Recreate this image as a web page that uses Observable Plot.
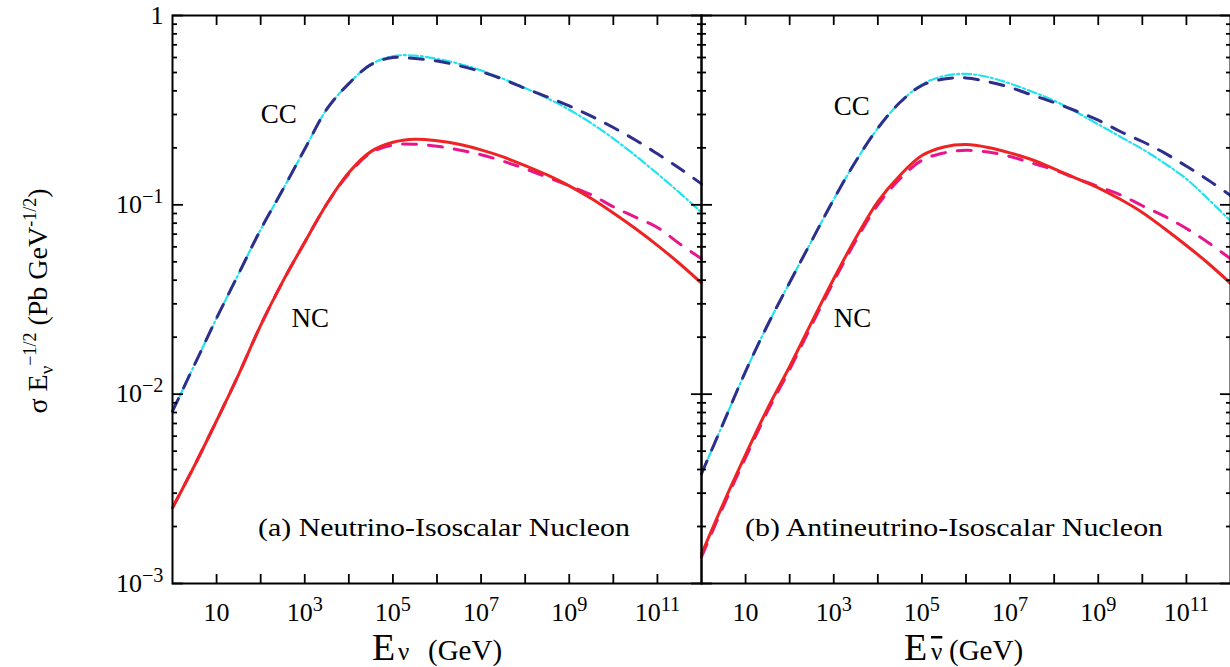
<!DOCTYPE html>
<html><head><meta charset="utf-8">
<script src="https://cdn.jsdelivr.net/npm/d3@7"></script>
<script src="https://cdn.jsdelivr.net/npm/@observablehq/plot@0.6"></script>
<style>
html,body{margin:0;padding:0;background:#fff;overflow:hidden;}
#chart{position:relative;width:1230px;height:667px;}
</style></head><body><div id="chart"></div>
<script>
// Energy grid (GeV)
const energy = [1, 3.16, 10, 31.6, 100, 316, 1e3, 3.16e3, 1e4, 3.16e4, 1e5, 3.16e5, 1e6, 3.16e6, 1e7, 3.16e7, 1e8, 3.16e8, 1e9, 3.16e9, 1e10, 3.16e10, 1e11, 3.16e11, 1e12];

// (a) Neutrino-Isoscalar Nucleon : sigma * E^-1/2 (pb GeV^-1/2)
const nuCCDashed  = [0.00813, 0.0143, 0.0252, 0.0432, 0.0741, 0.120, 0.197, 0.320, 0.437, 0.550, 0.600, 0.592, 0.575, 0.543, 0.505, 0.460, 0.412, 0.372, 0.333, 0.294, 0.256, 0.220, 0.186, 0.156, 0.129];
const nuCCDashDot = [0.00813, 0.0143, 0.0252, 0.0432, 0.0741, 0.120, 0.197, 0.320, 0.437, 0.552, 0.610, 0.614, 0.590, 0.556, 0.513, 0.463, 0.414, 0.366, 0.318, 0.270, 0.224, 0.182, 0.146, 0.116, 0.0912];
const nuNCSolid   = [0.00251, 0.00420, 0.00724, 0.0127, 0.0231, 0.0393, 0.0635, 0.101, 0.148, 0.191, 0.214, 0.222, 0.218, 0.209, 0.195, 0.179, 0.161, 0.144, 0.126, 0.108, 0.0906, 0.0750, 0.0611, 0.0490, 0.0386];
const nuNCDashed  = [0.00251, 0.00420, 0.00724, 0.0127, 0.0231, 0.0393, 0.0635, 0.101, 0.146, 0.188, 0.207, 0.209, 0.204, 0.195, 0.184, 0.170, 0.155, 0.140, 0.126, 0.113, 0.0977, 0.0861, 0.0759, 0.0624, 0.0519];

// (b) Antineutrino-Isoscalar Nucleon
const nubarCCDashed  = [0.00380, 0.00708, 0.0132, 0.0232, 0.0389, 0.0646, 0.107, 0.170, 0.254, 0.347, 0.427, 0.462, 0.468, 0.447, 0.417, 0.380, 0.347, 0.313, 0.280, 0.244, 0.216, 0.188, 0.160, 0.135, 0.112];
const nubarCCDashDot = [0.00380, 0.00708, 0.0132, 0.0232, 0.0389, 0.0646, 0.107, 0.170, 0.254, 0.347, 0.432, 0.479, 0.492, 0.473, 0.437, 0.396, 0.355, 0.309, 0.266, 0.229, 0.197, 0.166, 0.137, 0.107, 0.0822];
const nubarNCSolid   = [0.00143, 0.00266, 0.00479, 0.00841, 0.0140, 0.0240, 0.0407, 0.0668, 0.104, 0.143, 0.182, 0.202, 0.208, 0.201, 0.188, 0.173, 0.155, 0.138, 0.123, 0.107, 0.0912, 0.0750, 0.0610, 0.0490, 0.0385];
const nubarNCDashed  = [0.00138, 0.00257, 0.00462, 0.00813, 0.0135, 0.0232, 0.0394, 0.0646, 0.100, 0.137, 0.172, 0.188, 0.194, 0.190, 0.180, 0.166, 0.153, 0.138, 0.125, 0.113, 0.0989, 0.0871, 0.0750, 0.0631, 0.0519];

// Ticks and labels
const xTicks = [10, 100, 1e3, 1e4, 1e5, 1e6, 1e7, 1e8, 1e9, 1e10, 1e11];
const xLabelTicks = [10, 1e3, 1e5, 1e7, 1e9, 1e11];
const xTickLabels = ["10", "10^3", "10^5", "10^7", "10^9", "10^11"];
const yMajorTicks = [0.001, 0.01, 0.1, 1];
const yTickLabels = ["10^\u22123", "10^\u22122", "10^\u22121", "1"];
const yMinorTicks = [0.002,0.003,0.004,0.005,0.006,0.007,0.008,0.009,
                     0.02,0.03,0.04,0.05,0.06,0.07,0.08,0.09,
                     0.2,0.3,0.4,0.5,0.6,0.7,0.8,0.9];

const panelLabels = [
  {panel: "a", label: "(a) Neutrino-Isoscalar Nucleon"},
  {panel: "b", label: "(b) Antineutrino-Isoscalar Nucleon"}
];
const curveLabels = [
  {panel: "a", label: "CC", E: 100, v: 0.30},
  {panel: "a", label: "NC", E: 500, v: 0.025},
  {panel: "b", label: "CC", E: 1000, v: 0.33},
  {panel: "b", label: "NC", E: 1000, v: 0.025}
];

const series = [
  {panel: "a", key: "ccDot", values: nuCCDashDot},
  {panel: "a", key: "ccDash", values: nuCCDashed},
  {panel: "a", key: "ncDash", values: nuNCDashed},
  {panel: "a", key: "ncSolid", values: nuNCSolid},
  {panel: "b", key: "ccDot", values: nubarCCDashDot},
  {panel: "b", key: "ccDash", values: nubarCCDashed},
  {panel: "b", key: "ncDash", values: nubarNCDashed},
  {panel: "b", key: "ncSolid", values: nubarNCSolid}
];
const rows = series.flatMap(s => s.values.map((v, i) => ({panel: s.panel, key: s.key, E: energy[i], v})));

const styles = {
  ccDot:   {stroke: "#22e2ee", strokeWidth: 2.2, strokeDasharray: "9,3,2,3"},
  ccDash:  {stroke: "#2e2e8c", strokeWidth: 3, strokeDasharray: "14,12"},
  ncDash:  {stroke: "#e8168c", strokeWidth: 3, strokeDasharray: "14,12"},
  ncSolid: {stroke: "#ee2323", strokeWidth: 3}
};
const order = ["ccDot", "ccDash", "ncDash", "ncSolid"];

const font = "'Liberation Serif', 'Times New Roman', Times, serif";

const chart = Plot.plot({
  width: 1230,
  height: 667,
  marginLeft: 172,
  marginRight: 0,
  marginTop: 15,
  marginBottom: 84,
  style: {fontFamily: font, fontSize: "26px", background: "white", color: "black"},
  fx: {domain: ["a", "b"], padding: 0, axis: null, label: null},
  x: {type: "log", domain: [1, 1e12]},
  y: {type: "log", domain: [1e-3, 1]},
  marks: [
    ...order.map(k => Plot.line(rows.filter(r => r.key === k), {x: "E", y: "v", fx: "panel", curve: "catmull-rom", ...styles[k]})),
    Plot.frame({stroke: "black", strokeWidth: 2}),
    // inward ticks on every side of each panel
    Plot.axisY(yMajorTicks, {anchor: "left", tickSize: -11, fill: "none", strokeWidth: 1.8, facetAnchor: null}),
    Plot.axisY(yMajorTicks, {anchor: "right", tickSize: -11, fill: "none", strokeWidth: 1.8, facetAnchor: null}),
    Plot.axisY(yMinorTicks, {anchor: "left", tickSize: -5, fill: "none", strokeWidth: 1.8, facetAnchor: null}),
    Plot.axisY(yMinorTicks, {anchor: "right", tickSize: -5, fill: "none", strokeWidth: 1.8, facetAnchor: null}),
    Plot.axisX(xTicks, {anchor: "bottom", tickSize: -9, fill: "none", strokeWidth: 1.8, facetAnchor: null}),
    Plot.axisX(xTicks, {anchor: "top", tickSize: -9, fill: "none", strokeWidth: 1.8, facetAnchor: null}),
    // tick labels
    Plot.axisY(yMajorTicks, {anchor: "left", tickSize: 0, tickPadding: 9, label: null, fontSize: 26,
      tickFormat: d => yTickLabels[yMajorTicks.indexOf(d)]}),
    Plot.axisX(xLabelTicks, {anchor: "bottom", tickSize: 0, tickPadding: 19, label: null, fontSize: 26, facetAnchor: null,
      tickFormat: d => xTickLabels[xLabelTicks.indexOf(d)]}),
    // annotations
    Plot.text(curveLabels, {x: "E", y: "v", fx: "panel", text: "label", textAnchor: "start", fontSize: 27, fill: "black"}),
    Plot.text(panelLabels.filter(d => d.panel === "a"), {fx: "panel", text: "label", frameAnchor: "bottom", lineAnchor: "bottom", dy: -48, dx: 7, fontSize: 26, fill: "black"}),
    Plot.text(panelLabels.filter(d => d.panel === "b"), {fx: "panel", text: "label", frameAnchor: "bottom", lineAnchor: "bottom", dy: -48, dx: -12, fontSize: 26, fill: "black"})
  ]
});

document.getElementById("chart").appendChild(chart);
const svg = d3.select(chart);

// superscripts in tick labels, panel label widths
svg.selectAll("text").each(function () {
  const s = this.textContent;
  if (s.includes("^")) {
    const [a, b] = s.split("^");
    this.textContent = "";
    d3.select(this).append("tspan").text(a);
    d3.select(this).append("tspan").attr("dy", "-0.5em").attr("font-size", "78%").text(b);
  }
  if (s.startsWith("(a)")) { this.setAttribute("textLength", 372); this.setAttribute("lengthAdjust", "spacingAndGlyphs"); }
  if (s.startsWith("(b)")) { this.setAttribute("textLength", 418); this.setAttribute("lengthAdjust", "spacingAndGlyphs"); }
});

// y-axis title
const yt = svg.append("text")
  .attr("transform", "translate(47,301) rotate(-90)")
  .attr("text-anchor", "middle")
  .attr("font-family", font)
  .attr("font-size", 28)
  .attr("fill", "black");
yt.append("tspan").text("\u03c3 E");
yt.append("tspan").attr("font-size", 19).attr("dy", 6).text("\u03bd");
yt.append("tspan").attr("font-size", 18).attr("dy", -17).text("\u22121/2");
yt.append("tspan").attr("dy", 11).text(" (Pb GeV");
yt.append("tspan").attr("font-size", 18).attr("dy", -11).text("-1/2");
yt.append("tspan").attr("dy", 11).text(")");

// x-axis titles
function xTitle(xE, xNu, xGeV, bar) {
  const g = svg.append("g").attr("font-family", font).attr("fill", "black").attr("text-anchor", "start");
  g.append("text").attr("x", xE).attr("y", 660).attr("font-size", 38).text("E");
  const nu = g.append("text").attr("x", xNu).attr("y", 660).attr("font-size", 25).text("\u03bd");
  if (bar) nu.style("text-decoration", "overline");
  g.append("text").attr("x", xGeV).attr("y", 660).attr("font-size", 29).text("(GeV)");
}
xTitle(372, 398, 428, false);
xTitle(904, 931, 949, true);
</script>
</body></html>
